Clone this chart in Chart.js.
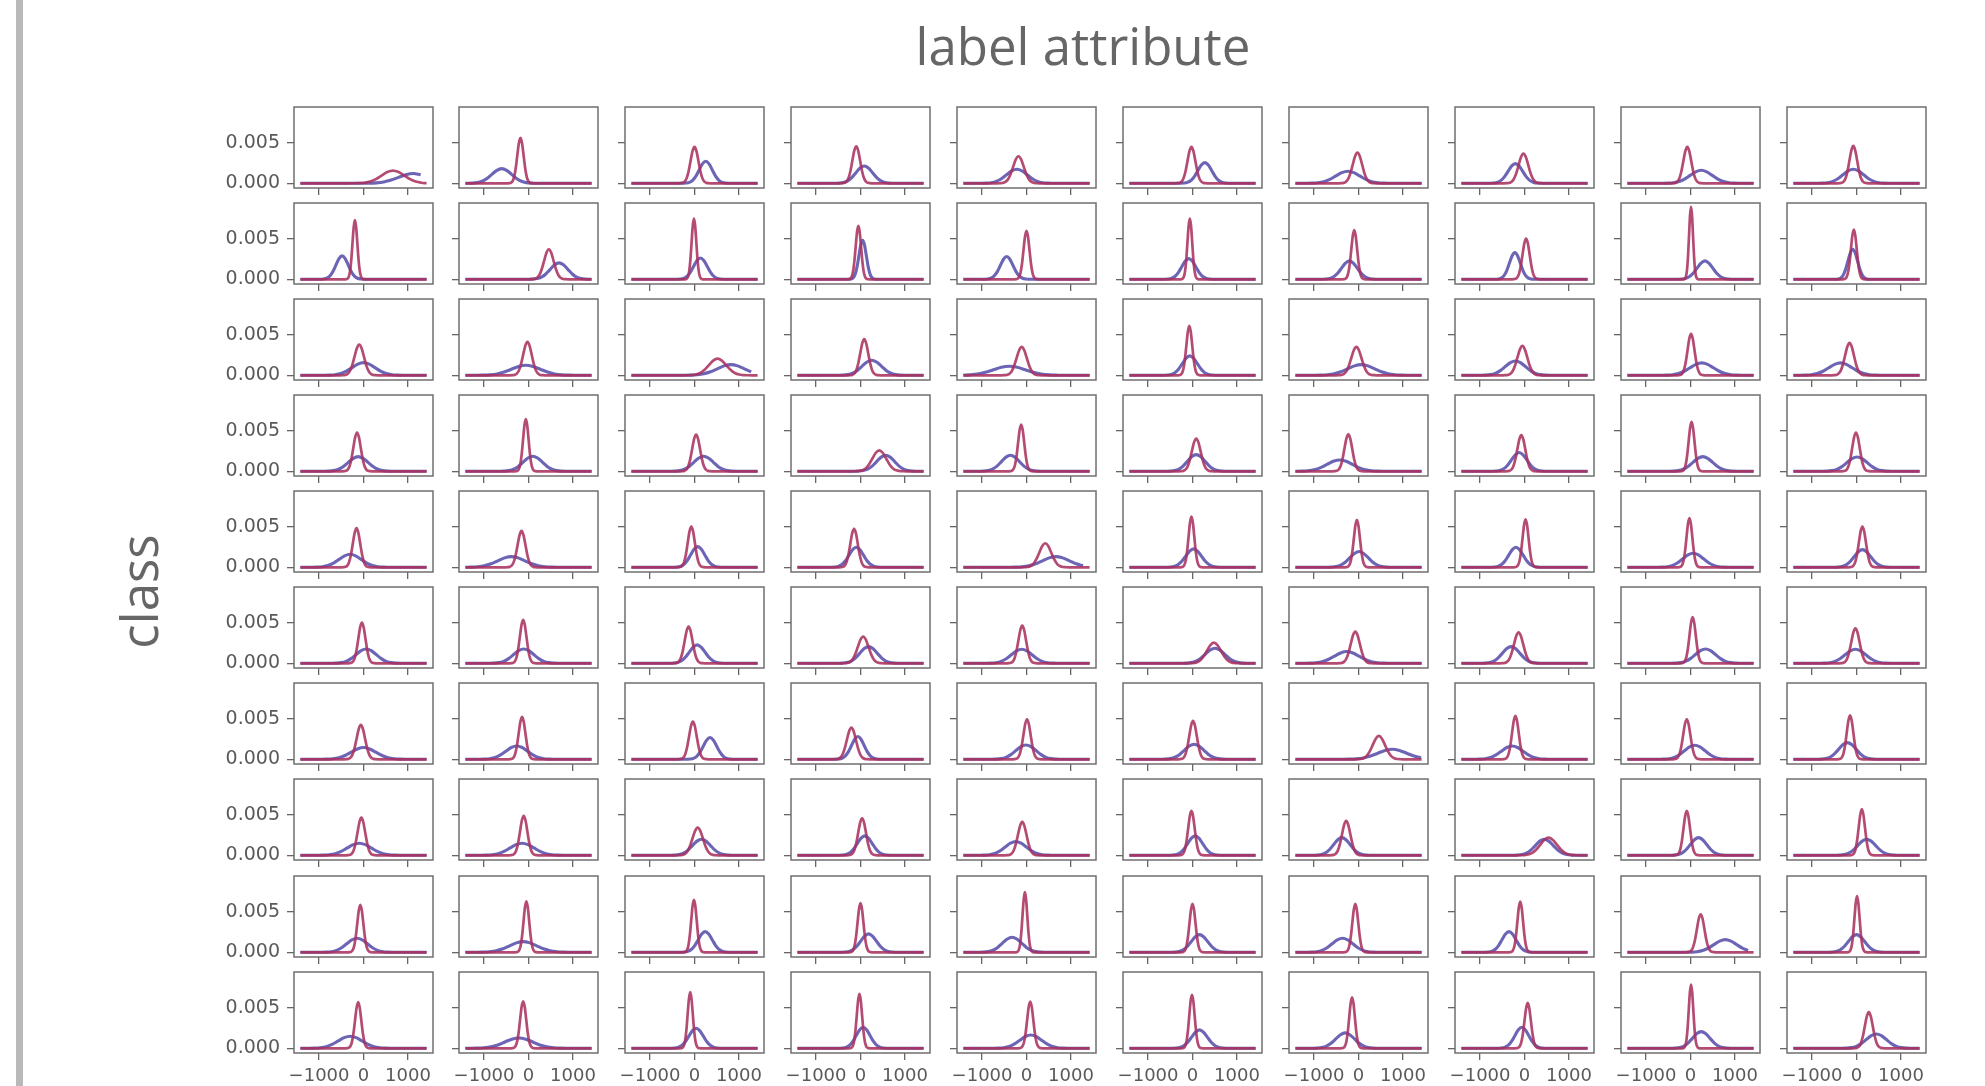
<!DOCTYPE html>
<html>
<head>
<meta charset="utf-8">
<title>label attribute / class</title>
<script src="https://cdn.jsdelivr.net/npm/chart.js@4.4.1/dist/chart.umd.min.js"></script>
<style>
  html, body { margin: 0; padding: 0; background: #fff; }
  #page { position: relative; width: 1985px; height: 1086px; overflow: hidden; }
  #page canvas { position: absolute; }
  .side-bar { position: absolute; left: 16px; top: 0; width: 7px; height: 1086px; background: #b9b9b9; }
  .big-label { position: absolute; font-family: 'Open Sans', sans-serif; font-size: 51px; line-height: 51px;
               color: #666; white-space: nowrap; text-align: center; }
</style>
</head>
<body>
<div id="page">
  <div class="side-bar"></div>
  <div class="big-label" style="left:883px; top:20px; width:400px; height:51px;">label attribute</div>
  <div class="big-label" style="left:38px; top:566px; width:200px; height:51px; transform:rotate(-90deg);">class</div>
</div>

<script>
// Valori: una riga per "class", una colonna per "label attribute"
// media (asse x) e altezza del picco (asse y) di ogni curva

const redMeans = [
    [663, -181, 0, -96, -181, -24, -24, -24, -72, -72],
    [-193, 458, -12, -48, 0, -60, -96, 36, 12, -60],
    [-96, -24, 518, 84, -108, -72, -48, -48, 12, -157],
    [-145, -60, 36, 422, -120, 84, -229, -72, 24, -12],
    [-157, -157, -72, -145, 422, -24, -36, 24, -24, 133],
    [-36, -120, -133, 60, -96, 482, -72, -133, 48, -24],
    [-60, -145, -36, -205, 12, 12, 458, -205, -84, -145],
    [-48, -108, 72, 36, -96, -24, -277, 542, -84, 120],
    [-72, -48, -12, 0, -36, 0, -72, -96, 229, 12],
    [-120, -120, -96, -24, 84, -12, -145, 72, 12, 277]
];

const redPeaks = [
    [0.00156, 0.00558, 0.00447, 0.00455, 0.00332, 0.00447, 0.00377, 0.00365, 0.00447, 0.00459],
    [0.00726, 0.00369, 0.00746, 0.00656, 0.00595, 0.00746, 0.00603, 0.00500, 0.00890, 0.00611],
    [0.00377, 0.00410, 0.00205, 0.00443, 0.00349, 0.00607, 0.00349, 0.00361, 0.00508, 0.00398],
    [0.00476, 0.00640, 0.00451, 0.00258, 0.00574, 0.00402, 0.00455, 0.00443, 0.00607, 0.00476],
    [0.00480, 0.00447, 0.00500, 0.00472, 0.00295, 0.00623, 0.00582, 0.00590, 0.00603, 0.00500],
    [0.00500, 0.00533, 0.00451, 0.00328, 0.00463, 0.00254, 0.00390, 0.00381, 0.00566, 0.00430],
    [0.00422, 0.00521, 0.00463, 0.00390, 0.00492, 0.00471, 0.00287, 0.00533, 0.00492, 0.00541],
    [0.00463, 0.00484, 0.00340, 0.00455, 0.00410, 0.00545, 0.00422, 0.00217, 0.00545, 0.00566],
    [0.00582, 0.00627, 0.00644, 0.00603, 0.00738, 0.00595, 0.00595, 0.00623, 0.00467, 0.00689],
    [0.00566, 0.00578, 0.00689, 0.00668, 0.00574, 0.00656, 0.00627, 0.00558, 0.00783, 0.00443]
];

const blueMeans = [
    [1120, -602, 253, 84, -217, 277, -241, -205, 241, -72],
    [-482, 687, 133, 48, -446, -84, -205, -217, 325, -84],
    [0, -60, 819, 253, -386, -60, 60, -205, 253, -361],
    [-120, 96, 205, 566, -361, 84, -422, -120, 277, 12],
    [-301, -386, 72, -96, 663, 24, 12, -193, 60, 133],
    [60, -108, 60, 181, -108, 506, -265, -301, 337, -24],
    [0, -265, 349, -60, -12, 36, 759, -277, 96, -205],
    [-96, -145, 157, 96, -241, 60, -374, 446, 181, 229],
    [-145, -120, 241, 181, -325, 157, -361, -349, 783, 0],
    [-301, -217, 36, 60, 96, 157, -301, -60, 241, 446]
];

const bluePeaks = [
    [0.00120, 0.00180, 0.00270, 0.00213, 0.00172, 0.00254, 0.00148, 0.00242, 0.00160, 0.00172],
    [0.00287, 0.00201, 0.00262, 0.00480, 0.00279, 0.00254, 0.00226, 0.00328, 0.00226, 0.00369],
    [0.00156, 0.00123, 0.00131, 0.00185, 0.00111, 0.00238, 0.00131, 0.00176, 0.00152, 0.00152],
    [0.00180, 0.00185, 0.00185, 0.00197, 0.00197, 0.00205, 0.00139, 0.00230, 0.00180, 0.00176],
    [0.00160, 0.00131, 0.00254, 0.00246, 0.00131, 0.00226, 0.00193, 0.00246, 0.00172, 0.00217],
    [0.00176, 0.00176, 0.00226, 0.00205, 0.00172, 0.00185, 0.00144, 0.00205, 0.00176, 0.00172],
    [0.00144, 0.00164, 0.00267, 0.00279, 0.00176, 0.00185, 0.00123, 0.00164, 0.00172, 0.00205],
    [0.00148, 0.00148, 0.00197, 0.00238, 0.00168, 0.00238, 0.00217, 0.00197, 0.00217, 0.00197],
    [0.00172, 0.00131, 0.00254, 0.00226, 0.00185, 0.00217, 0.00172, 0.00254, 0.00156, 0.00217],
    [0.00148, 0.00127, 0.00246, 0.00258, 0.00164, 0.00226, 0.00189, 0.00258, 0.00205, 0.00176]
];

const xTickValues = [-1000, 0, 1000];
const yTickValues = [0, 0.005];

// profilo a campana (passi in sigma, altezza relativa al picco)
const bellSteps = [-4, -3.5, -3, -2.5, -2, -1.5, -1, -0.5, 0, 0.5, 1, 1.5, 2, 2.5, 3, 3.5, 4];
const bellShape = [0, 0.002, 0.011, 0.044, 0.135, 0.325, 0.607, 0.882, 1, 0.882, 0.607, 0.325, 0.135, 0.044, 0.011, 0.002, 0];

// Limiti degli assi e disposizione dei pannelli
const curveEdge = 1420;
const xLimit = 1564;
const yMin = -0.00058, yMax = 0.00937;
const frameW = 139, frameH = 81;
const gridLeft = 293.5, gridTop = 106.7, colStep = 165.9, rowStep = 96.1;

const xTickFont = { family: "'DejaVu Sans', sans-serif", size: 18 };
const yTickFont = { family: "'DejaVu Sans', sans-serif", size: 19 };
const tickColor = '#5a5a5a';

/**
 * Punti di una curva a partire da media e picco
 */
function bellPoints(mean, peak) {
    const sigma = 1 / (peak * Math.sqrt(2 * Math.PI));
    const pts = [];
    bellSteps.forEach((z, i) => {
        const x = mean + z * sigma;
        if (x >= -curveEdge && x <= curveEdge) {
            pts.push({ x: x, y: peak * bellShape[i], h: bellShape[i] });
        }
    });
    if (pts.length && pts[0].x > -curveEdge && pts[0].h < 0.05) {
        pts.unshift({ x: -curveEdge, y: 0, h: 0 });
    }
    const last = pts[pts.length - 1];
    if (last && last.x < curveEdge && last.h < 0.05) {
        pts.push({ x: curveEdge, y: 0, h: 0 });
    }
    return pts;
}

// Cornice completa intorno a ogni pannello
const framePlugin = {
    id: 'panelFrame',
    afterDraw(chart) {
        const a = chart.chartArea;
        const ctx = chart.ctx;
        ctx.save();
        ctx.strokeStyle = '#6f6f6f';
        ctx.lineWidth = 1.5;
        ctx.strokeRect(a.left, a.top, a.right - a.left, a.bottom - a.top);
        ctx.restore();
    }
};

function formatX(v) {
    return v < 0 ? '\u2212' + Math.abs(v) : String(v);
}

// niente padding automatico: l'area del grafico resta quella della cornice
function noPadding(s) {
    s.paddingLeft = 0;
    s.paddingRight = 0;
    s.paddingTop = 0;
    s.paddingBottom = 0;
}

const page = document.getElementById('page');

for (let r = 0; r < 10; r++) {
    for (let c = 0; c < 10; c++) {
        const showY = c === 0;
        const showX = r === 9;
        const LM = showY ? 80 : 9;
        const BM = showX ? 33 : 9;
        const TM = 2, RM = 2;
        const fl = Math.round(gridLeft + colStep * c);
        const ft = Math.round(gridTop + rowStep * r);

        const canvas = document.createElement('canvas');
        canvas.width = LM + frameW + RM;
        canvas.height = TM + frameH + BM;
        canvas.style.left = (fl - LM) + 'px';
        canvas.style.top = (ft - TM) + 'px';
        canvas.style.width = canvas.width + 'px';
        canvas.style.height = canvas.height + 'px';
        page.appendChild(canvas);

        new Chart(canvas.getContext('2d'), {
            type: 'line',
            data: {
                datasets: [{
                    data: bellPoints(redMeans[r][c], redPeaks[r][c]),
                    borderColor: 'rgba(170, 50, 96, 0.88)',
                    borderWidth: 2.7,
                    pointRadius: 0,
                    cubicInterpolationMode: 'monotone',
                    fill: false
                }, {
                    data: bellPoints(blueMeans[r][c], bluePeaks[r][c]),
                    borderColor: 'rgba(82, 74, 168, 0.85)',
                    borderWidth: 3.1,
                    pointRadius: 0,
                    cubicInterpolationMode: 'monotone',
                    fill: false
                }]
            },
            options: {
                responsive: false,
                animation: false,
                events: [],
                layout: { padding: { top: TM, right: RM, left: 0, bottom: 0 } },
                plugins: { legend: { display: false }, tooltip: { enabled: false } },
                scales: {
                    x: {
                        type: 'linear',
                        min: -xLimit,
                        max: xLimit,
                        afterBuildTicks: s => { s.ticks = xTickValues.map(v => ({ value: v })); },
                        afterFit: s => { s.height = BM; noPadding(s); },
                        border: { display: false },
                        grid: { drawOnChartArea: false, drawTicks: true, tickLength: 7, color: '#666', lineWidth: 1.3 },
                        ticks: {
                            display: showX,
                            autoSkip: false,
                            maxRotation: 0,
                            minRotation: 0,
                            padding: 6,
                            font: xTickFont,
                            color: tickColor,
                            callback: v => formatX(v)
                        }
                    },
                    y: {
                        min: yMin,
                        max: yMax,
                        afterBuildTicks: s => { s.ticks = yTickValues.map(v => ({ value: v })); },
                        afterFit: s => { s.width = LM; noPadding(s); },
                        border: { display: false },
                        grid: { drawOnChartArea: false, drawTicks: true, tickLength: 7, color: '#666', lineWidth: 1.3 },
                        ticks: {
                            display: showY,
                            autoSkip: false,
                            padding: 7,
                            font: yTickFont,
                            color: tickColor,
                            callback: v => v.toFixed(3)
                        }
                    }
                }
            },
            plugins: [framePlugin]
        });
    }
}
</script>
</body>
</html>
